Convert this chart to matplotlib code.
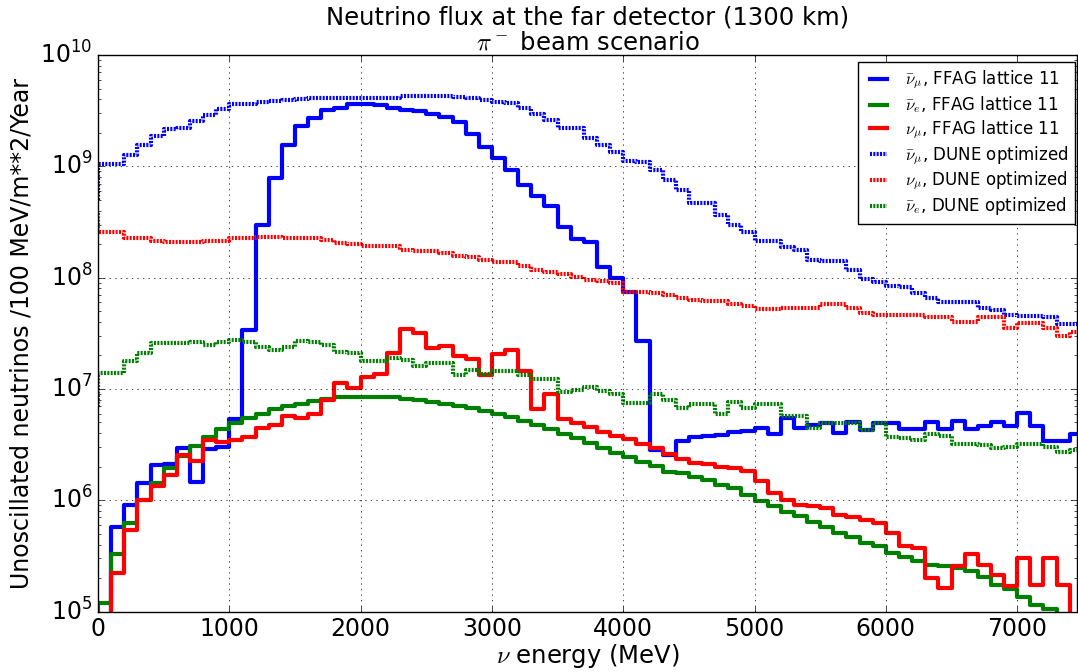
import numpy as np
import matplotlib
matplotlib.use('Agg')
import matplotlib.pyplot as plt

# bin edges (MeV); first value of every series is the level at E=0,
# the rest are the 100 MeV bins 0-100, 100-200, ... 7400-7500
energy = np.arange(0, 7600, 100)

ffag_numubar = [1e4, 1e4, 5.8e5, 9.1e5, 1.44e6, 2.07e6, 2.1e6, 2.93e6, 1.47e6, 2.9e6, 3.0e6,
                5.4e6, 3.4e7, 3.0e8, 7.8e8, 1.57e9, 2.3e9, 2.72e9, 3.19e9, 3.37e9, 3.6e9,
                3.6e9, 3.55e9, 3.37e9, 3.24e9, 3.13e9, 2.98e9, 2.78e9, 2.5e9, 1.95e9, 1.49e9,
                1.18e9, 9.2e8, 6.76e8, 5.4e8, 4.37e8, 2.86e8, 2.24e8, 2.1e8, 1.26e8, 1.0e8,
                7.4e7, 2.7e7, 2.8e6, 2.57e6, 3.43e6, 3.7e6, 3.75e6, 3.86e6, 4.13e6, 4.2e6,
                4.47e6, 3.9e6, 5.45e6, 4.47e6, 4.75e6, 4.98e6, 4.0e6, 5.0e6, 4.27e6, 4.98e6,
                4.9e6, 4.34e6, 4.4e6, 5.0e6, 4.34e6, 5.2e6, 4.4e6, 4.65e6, 5.0e6, 4.6e6,
                6.1e6, 4.6e6, 3.4e6, 3.4e6, 3.9e6]
ffag_nuebar = [1e4, 1.19e5, 3.3e5, 6.3e5, 1.0e6, 1.44e6, 1.96e6, 2.5e6, 3.07e6, 3.72e6, 4.33e6,
               4.98e6, 5.5e6, 6.0e6, 6.56e6, 7.0e6, 7.4e6, 7.83e6, 8.2e6, 8.4e6, 8.5e6,
               8.5e6, 8.4e6, 8.4e6, 8.2e6, 7.94e6, 7.6e6, 7.3e6, 7.0e6, 6.7e6, 6.3e6,
               5.95e6, 5.56e6, 5.18e6, 4.75e6, 4.33e6, 3.93e6, 3.6e6, 3.29e6, 2.93e6, 2.64e6,
               2.46e6, 2.22e6, 2.03e6, 1.8e6, 1.75e6, 1.63e6, 1.52e6, 1.37e6, 1.28e6, 1.12e6,
               9.9e5, 8.9e5, 7.9e5, 7.2e5, 6.4e5, 5.7e5, 5.1e5, 4.65e5, 4.17e5, 3.84e5,
               3.39e5, 3.12e5, 2.87e5, 2.63e5, 2.54e5, 2.45e5, 2.29e5, 2.04e5, 1.74e5, 1.59e5,
               1.36e5, 1.15e5, 1.05e5, 9e4, 8e4]
ffag_numu = [1e4, 1e4, 2.24e5, 5.4e5, 1.0e6, 1.34e6, 1.69e6, 2.55e6, 2.25e6, 3.47e6, 3.36e6,
             3.47e6, 3.72e6, 4.49e6, 4.75e6, 5.7e6, 5.45e6, 6.0e6, 7.9e6, 1.12e7, 1.01e7,
             1.27e7, 1.36e7, 2.1e7, 3.43e7, 3.16e7, 2.35e7, 2.43e7, 1.97e7, 1.84e7, 1.33e7,
             2.04e7, 2.24e7, 1.46e7, 6.56e6, 9.1e6, 5.33e6, 4.9e6, 4.57e6, 4.13e6, 3.78e6,
             3.52e6, 3.2e6, 2.93e6, 2.6e6, 2.33e6, 2.18e6, 2.1e6, 2.0e6, 1.94e6, 1.83e6,
             1.5e6, 1.16e6, 1.0e6, 9.1e5, 8.9e5, 8.5e5, 7.4e5, 7.1e5, 6.6e5, 6.3e5,
             5.05e5, 3.84e5, 3.71e5, 2.0e5, 1.62e5, 2.54e5, 3.3e5, 2.63e5, 2.14e5, 1.68e5,
             3.0e5, 1.74e5, 3.0e5, 1.74e5, 1e4]
dune_numubar = [5e8, 1.04e9, 1.04e9, 1.26e9, 1.55e9, 1.89e9, 2.18e9, 2.2e9, 2.54e9, 2.88e9, 3.3e9,
                3.66e9, 3.66e9, 3.79e9, 3.85e9, 3.92e9, 4.0e9, 4.1e9, 4.1e9, 4.1e9, 4.1e9,
                4.1e9, 4.1e9, 4.1e9, 4.26e9, 4.26e9, 4.26e9, 4.26e9, 4.2e9, 4.15e9, 3.98e9,
                3.8e9, 3.75e9, 3.37e9, 2.98e9, 2.6e9, 2.23e9, 2.2e9, 1.81e9, 1.55e9, 1.35e9,
                1.12e9, 1.09e9, 9.35e8, 7.5e8, 6.1e8, 4.7e8, 4.65e8, 3.63e8, 2.96e8, 2.58e8,
                2.14e8, 2.14e8, 1.89e8, 1.79e8, 1.44e8, 1.4e8, 1.4e8, 1.17e8, 9.8e7, 9.2e7,
                8.4e7, 8.3e7, 7.3e7, 6.6e7, 6.0e7, 6.0e7, 6.0e7, 5.36e7, 5.1e7, 4.6e7,
                4.5e7, 4.5e7, 4.4e7, 3.83e7, 3.8e7]
dune_numu = [3.8e8, 2.58e8, 2.58e8, 2.29e8, 2.25e8, 2.14e8, 2.1e8, 2.1e8, 2.1e8, 2.14e8, 2.14e8,
             2.25e8, 2.25e8, 2.3e8, 2.3e8, 2.25e8, 2.25e8, 2.25e8, 2.2e8, 2.03e8, 2.0e8,
             1.92e8, 1.92e8, 1.92e8, 1.79e8, 1.75e8, 1.72e8, 1.65e8, 1.56e8, 1.52e8, 1.44e8,
             1.37e8, 1.37e8, 1.27e8, 1.18e8, 1.12e8, 1.07e8, 1.02e8, 9.5e7, 9.3e7, 8.87e7,
             7.47e7, 7.47e7, 7.3e7, 6.97e7, 6.5e7, 6.3e7, 6.2e7, 6.2e7, 5.78e7, 5.55e7,
             5.28e7, 5.28e7, 5.3e7, 5.35e7, 5.3e7, 5.8e7, 5.8e7, 5.3e7, 4.77e7, 4.6e7,
             4.6e7, 4.6e7, 4.65e7, 4.4e7, 4.4e7, 4.0e7, 4.0e7, 4.4e7, 4.4e7, 3.5e7,
             3.88e7, 3.88e7, 3.5e7, 2.99e7, 3.27e7]
dune_nuebar = [6.9e6, 1.38e7, 1.4e7, 1.79e7, 2.1e7, 2.57e7, 2.57e7, 2.57e7, 2.64e7, 2.48e7, 2.64e7,
               2.75e7, 2.65e7, 2.39e7, 2.24e7, 2.39e7, 2.7e7, 2.65e7, 2.5e7, 2.16e7, 2.1e7,
               1.79e7, 1.79e7, 1.88e7, 1.83e7, 1.61e7, 1.7e7, 1.7e7, 1.33e7, 1.48e7, 1.36e7,
               1.45e7, 1.45e7, 1.33e7, 1.22e7, 1.22e7, 9.4e6, 9.7e6, 1.05e7, 9.6e6, 9.1e6,
               7.5e6, 7.5e6, 9.0e6, 7.94e6, 6.7e6, 7.4e6, 7.4e6, 6.0e6, 7.6e6, 6.7e6,
               7.25e6, 7.25e6, 5.7e6, 5.7e6, 4.49e6, 4.9e6, 4.9e6, 4.95e6, 4.27e6, 4.98e6,
               3.67e6, 3.6e6, 3.5e6, 3.94e6, 3.78e6, 3.2e6, 3.2e6, 3.15e6, 2.93e6, 3.0e6,
               3.2e6, 3.2e6, 3.0e6, 2.73e6, 2.8e6]

plt.style.use('classic')
plt.rcParams['savefig.facecolor'] = 'white'
plt.rcParams['figure.facecolor'] = 'white'

fig = plt.figure(figsize=(10.78, 6.72), dpi=100)
ax = fig.add_axes([0.0909, 0.09, 0.9081, 0.828])

dots = (0, (1.45, 0.95))
ax.plot(energy, ffag_numubar, drawstyle='steps', color='b', lw=3,
        label=r'$\bar{\nu}_\mu$, FFAG lattice 11')
ax.plot(energy, ffag_nuebar, drawstyle='steps', color='g', lw=3,
        label=r'$\bar{\nu}_e$, FFAG lattice 11')
ax.plot(energy, ffag_numu, drawstyle='steps', color='r', lw=3,
        label=r'$\nu_\mu$, FFAG lattice 11')
ax.plot(energy, dune_numubar, drawstyle='steps', color='b', lw=3, ls=dots,
        label=r'$\bar{\nu}_\mu$, DUNE optimized')
ax.plot(energy, dune_numu, drawstyle='steps', color='r', lw=3, ls=dots,
        label=r'$\nu_\mu$, DUNE optimized')
ax.plot(energy, dune_nuebar, drawstyle='steps', color='g', lw=3, ls=dots,
        label=r'$\bar{\nu}_e$, DUNE optimized')

ax.set_yscale('log')
ax.set_xlim(0, 7455)
ax.set_ylim(1e5, 1e10)
ax.grid(True, which='major')
ax.tick_params(labelsize=17)

ax.set_xlabel(r'$\nu$ energy (MeV)', fontsize=17.5, labelpad=1)
ax.set_ylabel('Unoscillated neutrinos /100 MeV/m**2/Year', fontsize=17)

# two-line title, baselines placed to match the original
xc = (98 + 1077) / 2 / 1078
fig.text(xc, 1 - 25 / 672, 'Neutrino flux at the far detector (1300 km)',
         ha='center', va='baseline', fontsize=17.5)
fig.text(xc, 1 - 50 / 672, r'$\pi^-$ beam scenario',
         ha='center', va='baseline', fontsize=17.5)

ax.legend(loc='upper right', bbox_to_anchor=(1075 / 1078, 1 - 62 / 672),
          bbox_transform=fig.transFigure, borderaxespad=0,
          fontsize=12, frameon=True, fancybox=False,
          handlelength=1.6, labelspacing=0.18)

fig.savefig('out.png', dpi=100)
